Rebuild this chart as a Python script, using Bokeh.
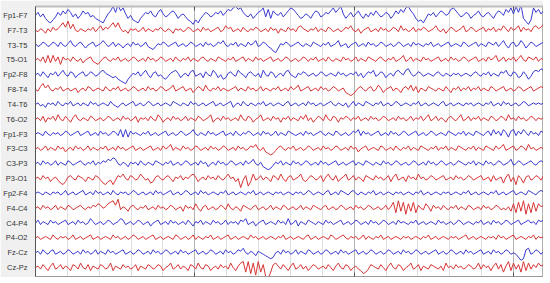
import numpy as np
from bokeh.plotting import figure
from bokeh.models import Range1d, FixedTicker, LinearAxis, Grid
from bokeh.embed import file_html
from bokeh.resources import INLINE

channels = ["Fp1-F7", "F7-T3", "T3-T5", "T5-O1", "Fp2-F8", "F8-T4", "T4-T6", "T6-O2",
            "Fp1-F3", "F3-C3", "C3-P3", "P3-O1", "Fp2-F4", "F4-C4", "C4-P4", "P4-O2",
            "Fz-Cz", "Cz-Pz"]

# trace deflections (approx. pixels, upward positive), sampled evenly across the record
r1 = [0,2,-1,1,-2,-4,-5,-3,-1,2,0,3,1,4,2,-1,1,-2,0,3,
      1,2,-1,0,-2,-3,-4,-5,-2,1,3,6,2,7,3,5,1,-2,0,-3,
      -4,-5,-2,0,2,1,3,0,-1,2,4,1,-1,0,2,3,1,-2,0,1,
      -1,-3,-4,-6,-3,-5,-2,0,2,1,-1,0,2,1,3,0,2,4,3,5,
      6,4,5,2,0,-1,1,-2,0,2,3,5,-1,4,-2,3,1,0,2,-1,
      1,3,5,4,2,0,-2,-1,1,0,-2,1,3,2,-1,0,2,1,3,5,
      2,4,6,1,-2,0,2,-1,1,3,0,-2,1,-1,2,0,3,1,-1,0,
      2,1,-2,0,3,1,4,2,5,6,3,1,-2,-4,-3,-5,-2,1,0,2,
      -1,1,3,2,0,1,4,5,3,1,-1,0,2,1,-2,0,1,3,0,-1,
      1,2,0,-2,1,3,2,0,4,2,5,1,6,2,7,-2,-4,-6,-3,5,
      2,4,1,3]
r2 = [0,-1,1,0,-2,1,-1,2,0,1,3,5,2,6,1,4,0,-1,1,0,
      -1,1,0,2,-1,1,3,0,2,1,3,5,2,5,1,-1,0,-2,1,0,
      1,-1,0,2,-1,1,0,-1,1,0,2,0,-1,1,0,-2,1,0,1,-1,
      0,2,1,-1,0,1,-1,2,0,1,-1,0,1,2,-1,0,3,1,2,-1,
      0,1,-1,2,0,-1,1,0,2,1,-1,0,1,-1,2,0,1,-2,1,0,
      -1,2,0,1,-1,2,3,1,0,-1,1,0,2,-1,1,0,-1,2,1,-1,
      0,1,-1,0,2,1,3,0,-1,1,-2,0,1,2,-1,0,1,-1,2,0,
      1,-1,0,2,1,-1,3,0,1,-1,0,2,-1,1,0,2,1,-1,0,1,
      3,0,-1,1,-2,0,2,1,-1,0,1,3,-1,0,2,1,-1,0,1,2,
      -1,1,0,2,-1,1,0,3,1,-1,2,0,1,3,-1,2,0,1,-1,2,
      3,1,2,4]
r3 = [1,-1,0,2,1,-1,0,2,1,-1,2,0,-1,1,3,0,-1,1,2,0,
      -2,0,1,2,-1,0,1,3,1,-1,0,2,-1,1,0,-2,0,1,-1,2,
      0,1,-1,0,2,-1,-2,-3,-1,1,0,2,1,-1,0,1,2,-1,0,1,
      -1,0,2,1,-1,0,1,-1,2,0,1,-1,0,2,1,3,0,-1,1,0,
      2,-1,1,0,-1,2,0,1,3,-1,0,2,1,-1,-2,-4,-5,-2,1,0,
      2,1,-1,0,1,2,0,-1,1,0,-1,2,1,0,-1,1,0,2,-1,0,
      1,3,-1,0,1,-2,0,1,2,-1,0,1,-1,2,0,1,-1,0,2,1,
      -1,0,1,-1,0,2,1,-1,0,1,-1,2,0,1,0,-1,1,0,2,-1,
      0,1,-1,0,1,2,-1,0,1,0,-1,2,1,-1,0,1,2,-1,1,0,
      -1,2,1,0,2,-1,1,3,0,-2,1,2,-1,0,3,1,-2,0,2,1,
      -1,0,1,2]
r4 = [0,1,-1,2,-2,3,-2,3,-1,2,-3,2,0,1,-1,2,0,-1,1,-2,
      0,1,2,-1,-2,-3,-1,1,2,0,-1,1,0,2,-1,0,1,-1,0,2,
      1,-1,0,1,-1,2,0,1,-1,0,2,1,-1,0,1,-1,2,0,-1,1,
      0,2,-1,1,0,-1,1,2,0,-1,1,0,-1,2,1,0,-1,1,0,2,
      -1,0,1,2,-1,1,0,-1,2,0,1,-1,0,1,2,-1,0,1,-1,0,
      2,1,-1,0,1,-1,0,2,1,-1,1,0,2,-1,0,1,-1,2,0,-1,
      1,0,-1,2,0,1,-1,0,2,-1,1,0,-1,2,1,0,-1,1,2,0,
      -1,1,0,2,-1,0,1,3,-1,0,2,-1,1,0,-1,2,0,1,-1,0,
      1,2,-1,0,1,-1,2,0,1,-1,0,2,1,-1,0,1,2,-1,0,1,
      -1,2,0,1,3,-1,0,2,-1,1,0,2,-1,1,3,0,-1,2,1,0,
      2,-1,1,0]
r5 = [0,1,-1,2,0,-2,1,0,2,-1,1,3,0,-1,2,1,-2,0,1,2,
      -1,0,2,1,-1,0,2,3,1,0,-1,-2,-1,-3,-4,-5,-6,-3,-1,1,
      0,2,-1,1,3,0,-2,1,2,-1,0,-2,-3,-1,1,2,3,1,-2,0,
      1,-1,2,3,-1,0,1,-2,2,0,-1,3,1,-2,0,-3,-2,1,2,0,
      -1,3,1,0,-2,1,2,0,-1,1,-2,3,0,-1,2,1,-2,0,1,-1,
      2,3,0,-1,-2,1,0,2,1,-1,0,1,-1,0,2,1,-1,0,1,0,
      -1,2,0,1,-1,0,1,0,2,-1,1,-2,0,2,1,3,-1,0,2,1,
      -2,0,1,-1,2,3,1,0,3,4,1,-1,0,2,1,-1,0,1,0,-1,
      1,2,0,-1,1,0,-1,1,0,1,-1,0,1,0,-1,1,2,0,-1,1,
      0,2,-1,1,0,-1,2,1,3,0,-1,2,1,-2,-1,2,0,-3,-1,2,
      3,2,4,3]
r6 = [0,-1,2,4,1,3,0,-1,1,0,2,-1,0,1,-1,0,1,-2,0,1,
      -1,2,1,-1,0,1,0,-1,2,0,-1,1,0,2,-1,0,1,-1,0,2,
      1,-1,0,1,-1,2,0,1,-1,0,2,1,-1,0,1,3,-1,0,1,2,
      -1,0,1,-2,0,2,1,-1,3,0,-1,1,0,2,-1,1,0,-1,0,1,
      2,-1,1,0,-1,2,0,1,-1,0,2,-1,1,0,-1,1,0,2,-1,0,
      1,-1,2,0,1,3,-1,0,1,2,-1,0,1,-1,2,0,1,-1,0,2,
      1,-1,0,1,-2,-3,-4,-3,-1,1,2,0,-1,1,2,-1,0,3,1,-2,
      0,1,2,-1,1,0,-2,1,2,0,3,-1,2,-2,1,0,-1,2,1,0,
      -1,1,0,-1,2,0,-2,1,0,2,-1,1,0,2,-1,1,0,2,-1,1,
      0,-1,2,1,-1,0,1,2,-1,0,1,-1,0,2,1,-1,0,1,2,-1,
      0,1,2,1]
r7 = [0,1,-1,0,-2,1,0,1,-1,2,0,-1,1,0,2,-1,0,1,-1,1,
      0,-1,2,0,1,-1,0,1,0,-1,2,0,-1,-2,0,1,-1,0,1,2,
      -1,0,1,-1,0,2,1,-1,0,1,-1,0,1,0,-1,2,1,0,-1,1,
      0,-1,2,0,1,-1,0,1,-1,0,1,2,-1,0,1,-1,0,1,2,-2,
      0,1,-1,2,0,-1,1,0,-1,1,0,2,-1,0,1,-1,0,1,0,-1,
      1,2,-1,0,1,-1,0,1,-1,2,0,1,-1,0,1,-1,0,1,2,0,
      -1,1,0,-1,1,-2,0,2,-1,1,0,-1,2,1,0,-1,1,0,2,-1,
      0,1,-1,0,2,1,-1,0,1,0,-1,1,0,2,-1,0,1,-1,0,1,
      0,-1,1,2,-1,0,1,-1,0,1,0,-1,1,0,1,-1,0,1,0,-1,
      1,0,2,-1,0,1,-1,2,0,1,-1,0,1,-1,0,2,1,-1,0,1,
      0,1,0,1]
r8 = [0,1,-1,2,-2,1,0,2,-1,3,0,-1,2,0,-2,1,3,0,-1,1,
      0,-1,2,1,-1,0,1,-1,0,2,1,-1,0,1,-1,2,0,1,-1,0,
      2,-2,1,0,1,-1,2,0,-1,3,1,-2,0,1,-1,2,0,1,-1,0,
      2,-1,1,0,-1,2,1,-1,0,1,3,-2,0,1,-1,2,0,1,-1,0,
      1,-1,3,0,-1,2,1,-2,0,1,3,-1,0,1,-1,2,0,1,-2,1,
      0,2,-1,1,0,-1,2,0,3,-1,1,-2,0,2,1,-1,3,0,-1,2,
      1,-2,1,0,2,1,-1,1,0,2,-1,0,1,-1,2,0,1,-1,0,2,
      1,-1,0,1,-1,2,0,1,-1,0,2,-1,1,0,2,-1,1,3,-1,0,
      2,-1,1,0,-2,1,2,0,-1,1,3,-1,0,2,-1,1,0,2,-1,1,
      0,-1,2,1,-1,0,2,1,-1,3,0,1,-1,2,0,1,-1,0,2,1,
      -1,1,0,1]
r9 = [0,1,0,-1,2,0,-1,1,0,1,-1,0,2,1,-1,0,1,2,-1,0,
      1,2,-1,0,1,-1,2,0,1,-1,0,2,1,-1,3,-2,3,-2,2,0,
      1,0,-1,1,0,2,-1,0,1,-1,0,1,2,-1,0,1,-1,0,2,1,
      -1,0,1,3,0,-1,1,0,-1,2,0,1,-1,0,1,2,-1,0,1,-1,
      2,0,-1,1,0,2,1,-1,0,1,-1,2,0,1,-1,0,2,-1,1,0,
      -1,2,1,0,-1,0,1,-1,2,0,1,-1,0,1,2,0,-1,1,0,-1,
      2,1,-1,0,1,-1,0,2,1,3,-1,2,0,1,-1,0,1,2,-1,0,
      1,-1,2,0,1,-1,0,2,1,-1,0,1,2,-1,0,1,-1,0,2,1,
      -1,0,1,0,-1,2,1,0,-1,1,0,2,-1,1,0,-1,2,1,0,-1,
      1,2,-1,3,0,2,-1,3,1,-2,2,3,-1,2,0,3,1,-1,2,0,
      1,-1,2,1]
r10 = [0,1,-1,0,2,-1,1,0,-1,2,0,1,-2,0,1,-1,2,0,1,-1,
       0,2,-1,1,0,-1,1,0,2,-1,0,1,-1,2,0,1,-1,0,1,2,
       -1,0,1,-1,0,1,2,-1,0,1,-1,2,0,1,3,-1,1,0,-1,2,
       0,1,-1,0,2,1,-1,0,1,-1,2,0,1,-1,0,2,1,-1,0,1,
       -1,2,0,1,-1,0,2,1,3,0,-1,1,-2,-3,-4,-3,-1,1,2,0,
       -1,1,0,2,-1,0,1,-1,0,2,1,-1,0,1,-1,2,0,1,-1,0,
       2,1,-1,0,1,-1,2,0,1,-2,0,1,2,-1,0,1,0,-1,2,1,
       -1,0,1,-1,2,0,-1,1,0,2,-1,1,0,-1,2,1,0,-1,1,0,
       2,-1,1,0,2,-1,1,0,-1,2,1,0,-1,1,0,2,-1,1,0,-1,
       2,1,0,-1,2,0,1,3,-1,0,1,2,-1,0,2,1,-1,3,0,1,
       -1,0,1,0]
r11 = [0,1,-1,2,0,1,-1,0,2,-1,1,0,-1,2,1,-1,0,1,2,0,
       -1,1,0,2,-1,1,0,2,1,3,2,4,3,0,-1,1,0,-2,1,0,
       1,-1,2,0,-1,1,0,-1,2,1,0,-1,1,0,2,-1,0,1,-1,0,
       2,1,-1,0,1,-1,2,0,1,-2,0,1,-1,2,0,1,-1,0,2,1,
       -1,0,1,-1,2,0,1,3,0,-1,1,-2,-3,-4,-3,-1,1,0,2,-1,
       1,0,-1,2,0,1,-1,0,2,1,-1,0,1,-1,2,0,1,-1,0,1,
       2,-1,0,1,-1,0,1,2,-1,1,0,-1,2,1,0,-1,1,0,-1,2,
       0,1,-1,0,2,1,-1,0,1,-1,0,2,1,-1,0,1,-1,2,0,1,
       -1,0,2,1,-1,0,1,-1,0,2,1,0,-1,1,0,2,-1,1,0,-1,
       2,0,1,-1,0,2,1,-1,0,1,3,-1,0,2,1,-1,0,1,2,0,
       -1,1,2,1]
r12 = [0,1,-1,2,0,1,-2,0,1,-1,-3,-4,-2,1,2,0,-1,2,1,0,
       -2,1,0,-1,2,1,-1,-3,-4,-2,-1,-4,-1,2,1,3,0,-1,2,1,
       -1,0,3,1,-1,0,-3,-2,1,2,0,-1,1,2,0,-2,1,0,2,-1,
       1,0,2,3,1,-2,0,1,-1,2,0,1,-1,2,0,-1,1,3,0,1,
       -2,0,-6,-1,2,-5,-2,3,-1,0,2,-1,1,0,-2,2,1,-1,3,0,
       -2,1,2,-1,0,1,3,-1,-2,0,2,1,-1,0,2,-2,1,3,0,-1,
       2,-2,0,1,3,-1,0,2,-1,1,0,-2,2,1,0,-1,2,0,1,-1,
       0,2,-2,1,3,-1,0,1,-2,2,0,1,-1,3,0,1,-1,0,2,1,
       -1,0,1,2,-1,0,1,-1,2,0,1,-1,0,2,1,-1,0,1,2,-1,
       0,1,-2,2,-1,0,1,-3,1,3,-2,1,-4,2,0,-3,1,2,-1,0,
       2,1,-1,2]
r13 = [0,1,0,-1,1,0,-1,1,0,1,-1,0,2,-1,0,1,-1,0,1,2,
       -1,0,1,-1,2,0,1,-1,0,1,-1,2,0,-1,1,0,1,-1,0,2,
       1,-1,0,1,-1,0,1,-1,2,0,1,-1,0,1,2,-1,0,1,-1,0,
       2,1,-1,0,1,-1,2,0,1,-1,0,1,0,-1,1,0,2,-1,0,1,
       -1,0,1,0,-1,1,0,2,-1,0,1,-1,0,1,0,-1,1,0,1,-1,
       0,1,0,-1,1,0,1,-1,0,2,1,-1,0,1,0,-1,1,2,-1,0,
       1,-1,2,1,0,-1,1,2,0,-1,1,0,-1,1,0,2,-1,0,1,-1,
       0,1,0,-1,1,0,1,-1,0,1,0,-1,1,0,2,-1,0,1,-1,0,
       1,0,-1,1,0,1,-1,0,1,0,-1,1,0,2,-1,0,1,-1,0,1,
       0,-1,1,0,2,-1,0,1,-1,0,1,2,-1,0,1,0,-1,2,1,0,
       -1,1,2,1]
r14 = [0,1,-1,2,0,1,-1,0,2,-1,1,0,-1,2,1,-1,0,1,2,0,
       -1,1,0,2,1,3,2,0,1,3,4,5,2,6,-1,1,0,-2,1,2,
       0,-1,1,0,2,-1,0,1,-1,2,0,1,-1,0,2,1,-1,0,1,-2,
       2,0,1,-1,3,0,-2,1,2,-1,0,1,-1,0,2,1,-1,3,0,-1,
       1,0,-2,2,1,0,-1,1,2,-1,0,1,-1,0,2,-1,1,0,-1,2,
       1,-1,0,1,-1,0,2,-1,1,0,-1,2,1,0,-1,1,2,-1,0,1,
       -1,0,2,1,-1,0,1,-1,2,0,1,-1,0,2,1,-1,0,1,-1,0,
       2,-1,1,4,-3,5,-2,4,-4,3,-2,4,-3,2,0,-1,3,1,-2,2,
       0,1,-1,2,0,-1,1,0,2,-1,1,0,-1,2,1,-1,0,1,-1,2,
       0,1,-1,0,2,1,-1,0,-1,1,-2,3,-3,4,-2,5,-4,3,-3,4,
       -2,3,1,2]
r15 = [0,2,-1,1,0,-1,2,0,1,-1,0,1,2,-1,0,1,-1,2,0,1,
       -1,0,3,1,-1,0,1,-1,0,2,1,-1,0,1,3,2,-1,0,1,-1,
       0,2,1,-1,0,1,-2,0,1,2,-1,0,1,-1,2,0,1,-1,0,1,
       -1,2,0,-2,1,0,2,-1,1,0,-1,2,0,1,-1,0,2,-1,1,0,
       1,-1,2,1,3,-1,0,1,-2,0,1,2,-1,0,1,0,-1,2,0,1,
       -1,3,-1,0,2,-2,1,0,-1,2,1,0,-1,1,0,-1,2,0,1,-1,
       0,1,2,-1,0,1,-1,0,2,1,-1,0,1,-1,2,0,1,-1,0,2,
       1,-1,0,1,-1,2,0,1,0,-1,1,0,2,-1,0,1,-1,0,1,0,
       -1,2,0,1,-1,0,1,-1,0,2,1,-1,0,1,0,-1,1,0,2,-1,
       0,1,-1,2,0,1,-1,0,2,1,-1,0,1,2,-1,0,1,2,0,1,
       -1,2,1,2]
r16 = [0,1,-1,0,1,0,-1,2,0,-1,1,0,1,-1,0,2,-1,0,1,-1,
       0,1,2,-1,0,1,-1,0,1,0,-1,2,0,1,-1,0,1,-1,0,2,
       1,-1,0,1,-1,0,1,2,-1,0,1,-1,0,1,0,-1,2,1,-1,0,
       1,-1,0,2,-1,1,0,-1,1,0,2,-1,0,1,-1,0,1,2,-1,0,
       1,-1,0,1,0,-1,2,0,1,-1,0,1,-1,0,1,0,-1,1,0,2,
       -1,0,1,-1,0,1,0,-1,1,2,-1,0,1,-1,0,1,0,-1,2,1,
       -1,0,1,2,0,-1,1,0,1,-1,0,2,-1,1,0,-1,1,0,2,-1,
       0,1,-1,0,1,0,-1,1,0,1,-1,0,1,0,-1,1,0,2,-1,0,
       1,-1,0,1,0,-1,1,0,1,-1,0,1,2,-1,0,1,-1,0,1,0,
       -1,1,0,1,-1,2,0,1,-1,0,1,2,-1,0,1,0,-1,1,0,2,
       -1,1,0,1]
r17 = [0,1,-1,2,0,-1,1,2,-1,0,1,-1,0,2,1,-1,0,1,-1,2,
       0,1,-1,0,2,-1,1,0,-1,2,0,1,-1,0,1,2,-1,0,1,-1,
       0,2,1,-1,0,1,-1,2,0,1,-1,0,2,1,-1,0,1,-1,2,0,
       1,-1,0,1,2,-1,0,1,-1,0,2,1,-1,0,1,-1,2,0,1,-1,
       0,2,1,3,0,-1,1,0,-2,1,0,-1,-2,-3,-4,-3,0,1,-1,2,
       0,1,-1,0,2,-1,1,0,-1,2,1,-1,0,1,-1,0,2,1,-1,0,
       1,-1,2,0,1,-1,0,1,2,-1,0,1,-1,0,2,1,-1,0,1,-1,
       0,2,1,-1,0,1,-1,2,0,1,-1,0,2,1,-1,0,1,-1,0,1,
       2,-1,0,1,-1,0,2,1,-1,0,1,-1,2,0,1,-1,0,1,2,-1,
       0,1,-1,2,0,1,-1,0,2,1,-1,0,-1,-3,-5,-4,2,3,-1,0,
       2,1,-1,1]
r18 = [0,1,-1,2,0,-2,1,3,-1,0,2,-1,1,0,-2,2,1,-1,3,0,
       -1,2,-2,1,0,-1,2,1,-1,0,3,-2,1,0,-1,2,0,1,-1,0,
       2,-2,1,0,-1,2,1,-1,0,2,1,-2,0,1,3,-1,0,2,-1,1,
       0,-2,2,1,-1,3,0,-1,2,1,-2,0,1,-1,2,0,1,-1,3,0,
       -2,1,3,4,-3,4,-4,3,-5,4,-3,2,-6,-7,-3,2,3,1,-1,2,
       0,-2,1,3,-1,0,2,-1,1,-2,0,2,1,-1,0,1,-1,2,0,-2,
       1,3,0,-1,2,1,-2,0,1,-1,-2,-4,-3,-1,2,1,0,-1,2,0,
       -2,1,3,0,-1,2,1,-2,0,1,3,-1,0,2,-2,1,0,-1,2,1,
       0,-1,1,-2,3,0,1,-1,2,0,1,-1,0,2,1,-1,0,3,-1,2,
       0,1,-2,1,3,-1,2,-3,1,4,-2,3,-1,2,-3,4,-2,3,-1,2,
       0,3,1,2]

traces = [r1, r2, r3, r4, r5, r6, r7, r8, r9, r10, r11, r12, r13, r14, r15, r16, r17, r18]

X_END = 15.94          # record length in grid units (one unit per minor grid division)
PX_PER_ROW = 14.84     # vertical pixel spacing between channel baselines
GAIN = 1.5             # display gain applied to the deflections

BLUE = "#3a3ad0"
RED = "#d63434"
n = len(channels)

p = figure(width=543, height=277, output_backend="svg", toolbar_location=None,
           x_range=Range1d(0, X_END), y_range=Range1d(0.4, n + 0.6),
           min_border_left=33, min_border_right=0, min_border_top=6, min_border_bottom=1,
           x_axis_location=None, y_axis_location="left")
p.border_fill_color = "#f0f0f0"
p.background_fill_color = "white"
p.outline_line_color = "#b0b0b0"

for i, (name, vals) in enumerate(zip(channels, traces)):
    t = np.linspace(0, X_END, len(vals))
    base = n - i
    y = base + np.array(vals, dtype=float) * GAIN / PX_PER_ROW
    p.line(t, y, line_color=BLUE if i % 2 == 0 else RED, line_width=1)

# y axis: channel labels
p.yaxis.ticker = FixedTicker(ticks=list(range(1, n + 1)))
p.yaxis.major_label_overrides = {n - i: name for i, name in enumerate(channels)}
p.yaxis.major_label_text_font = "Liberation Sans"
p.yaxis.major_label_text_font_size = "7.5px"
p.yaxis.major_label_text_color = "#333333"
p.yaxis.major_tick_line_color = None
p.yaxis.minor_tick_line_color = None
p.yaxis.axis_line_color = "#555555"
p.yaxis.major_label_standoff = 2
p.ygrid.grid_line_color = None

# vertical grid: minor divisions and major (every 5)
p.xgrid.ticker = FixedTicker(ticks=list(range(1, 16)))
p.xgrid.grid_line_color = "#dedede"
major_ticks = [5, 10, 15]
g2 = Grid(dimension=0, ticker=FixedTicker(ticks=major_ticks), grid_line_color="#b4b4b4")
p.add_layout(g2)

for loc, col, w in (("above", "#bdbdbd", 2), ("below", "#9a9a9a", 1)):
    ax = LinearAxis(ticker=FixedTicker(ticks=major_ticks),
                    major_label_overrides={k: "" for k in major_ticks},
                    major_label_text_font_size="0px", major_label_standoff=0,
                    major_tick_in=4, major_tick_out=0, major_tick_line_color="#555555",
                    minor_tick_line_color=None, axis_line_color=col, axis_line_width=w)
    p.add_layout(ax, loc)

open("out.html", "w").write(file_html(p, INLINE))
